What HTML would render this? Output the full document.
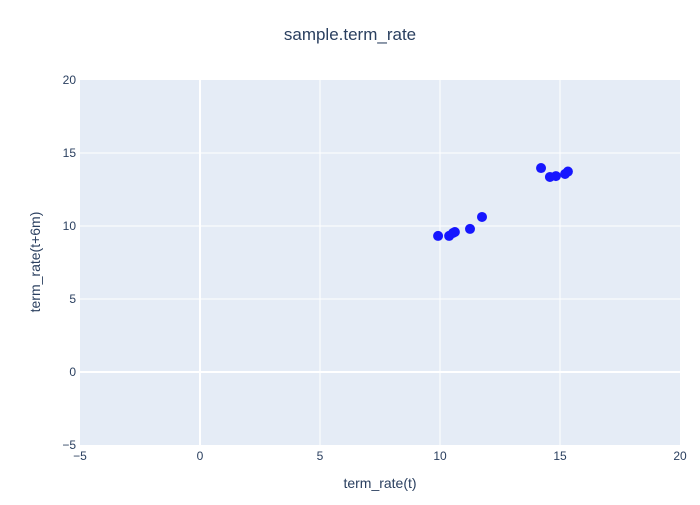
<!DOCTYPE html>
<html><head><meta charset="utf-8"><style>
body{margin:0;background:#fff;font-family:"Liberation Sans",sans-serif;}
</style></head><body>
<svg width="700" height="500" xmlns="http://www.w3.org/2000/svg">
<rect x="0" y="0" width="700" height="500" fill="#fff"/>
<rect x="80" y="80" width="600" height="365" fill="#e5ecf6"/>
<g id="grid"></g>
<g id="pts"></g>
<g id="ticks" font-size="12" fill="#2a3f5f"></g>
<text x="350" y="40" text-anchor="middle" font-size="17" fill="#2a3f5f">sample.term_rate</text>
<text x="380" y="488" text-anchor="middle" font-size="14" fill="#2a3f5f">term_rate(t)</text>
<text x="40" y="262" text-anchor="middle" font-size="14" fill="#2a3f5f" transform="rotate(-90 40 262)">term_rate(t+6m)</text>
</svg>
<script>
const xVals=[9.92,10.38,10.54,10.62,11.25,11.75,14.21,14.58,14.83,15.21,15.33];
const yVals=[9.32,9.32,9.52,9.59,9.8,10.62,13.97,13.36,13.42,13.56,13.73];
const xTicks=[-5,0,5,10,15,20];
const yTicks=[-5,0,5,10,15,20];
const NS="http://www.w3.org/2000/svg";
const X=v=>80+(v+5)/25*600, Y=v=>445-(v+5)/25*365;
const grid=document.getElementById('grid'),ticks=document.getElementById('ticks'),pts=document.getElementById('pts');
function mk(tag,a,p){const e=document.createElementNS(NS,tag);for(const k in a)e.setAttribute(k,a[k]);p.appendChild(e);return e;}
xTicks.forEach(t=>{
 if(t>-5&&t<20){const l=mk('line',{x1:X(t),x2:X(t),y1:80,y2:445,stroke:'#fff','stroke-width':t===0?2:1},grid);
 
 }
 const tx=mk('text',{x:X(t),y:460,'text-anchor':'middle'},ticks);tx.textContent=t<0?'\u22125':t;
 
 
});
yTicks.forEach(t=>{
 if(t>-5&&t<20){const l=mk('line',{x1:80,x2:680,y1:Y(t),y2:Y(t),stroke:'#fff','stroke-width':t===0?2:1},grid);
 
 }
 const tx=mk('text',{x:76,y:Y(t)+4,'text-anchor':'end'},ticks);tx.textContent=t<0?'\u22125':t;
 
 
});
xVals.forEach((v,i)=>{
 const c=mk('circle',{cx:X(v),cy:Y(yVals[i]),r:5,fill:'#1616ff'},pts);
 
 
});
</script>
</body></html>
